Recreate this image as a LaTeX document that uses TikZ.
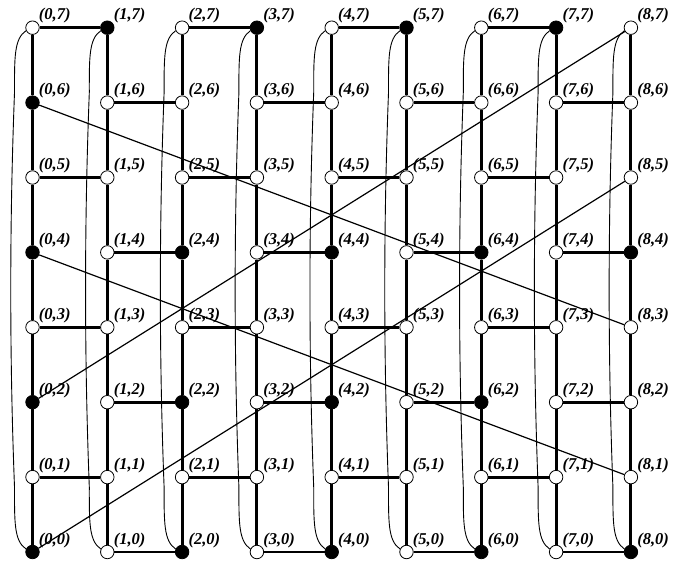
\documentclass[tikz,border=0pt]{standalone}
\usepackage{fontspec}
\setmainfont{Liberation Serif}
\usetikzlibrary{calc}
\def\blackset{,1-7,3-7,5-7,7-7,0-6,0-4,2-4,4-4,6-4,8-4,0-2,2-2,4-2,6-2,0-0,2-0,4-0,6-0,8-0,}
\makeatletter
\newcommand\setnodesty[2]{\edef\tmpa{\noexpand\in@{,#1-#2,}{\blackset}}\tmpa\ifin@\def\sty{bnode}\else\def\sty{vnode}\fi}
\makeatother
\begin{document}
\begin{tikzpicture}[x=1pt,y=1pt,
  vnode/.style={circle, draw, line width=0.8pt, minimum size=13.5pt, inner sep=0pt, fill=white},
  bnode/.style={vnode, fill=black},
  gridedge/.style={line width=2.9pt},
  wrap/.style={line width=0.9pt},
  diag/.style={line width=1.2pt},
  lab/.style={anchor=south west, inner sep=0pt, font=\fontsize{16.5}{18}\selectfont\bfseries\itshape, xshift=1.2pt, yshift=-1pt}]
\fill[white] (0,0) rectangle (675,565);
\useasboundingbox (0,0) rectangle (675,565);
% nodes
\foreach \i in {0,...,8} {
  \foreach \j in {0,...,7} {
    \setnodesty{\i}{\j}
    \node[\sty, label={[lab]45:{(\i,\j)}}] (n\i\j) at ({32.5+74.8*\i},{13+74.9*\j}) {};
  }
}
% vertical edges
\foreach \i in {0,...,8} {
  \foreach \j in {0,...,6} {
    \pgfmathtruncatemacro\k{\j+1}
    \draw[gridedge] (n\i\j) -- (n\i\k);
  }
}
% horizontal edges
\foreach \j in {0,...,7} {
  \foreach \i in {0,...,7} {
    \pgfmathtruncatemacro\p{mod(\i+\j,2)}
    \pgfmathtruncatemacro\k{\i+1}
    \ifnum\p=1 \draw[gridedge] (n\i\j) -- (n\k\j); \fi
  }
}
% wrap-around curves
\foreach \i in {0,...,8} {
  \draw[wrap] (n\i7.205) .. controls +(-12,-8) and +(0,35) .. ($(n\i7)+(-18,-65)$)
    .. controls +(-5,-130) and +(-5,130) .. ($(n\i0)+(-18,65)$)
    .. controls +(0,-35) and +(-12,8) .. (n\i0.155);
}
% diagonals
\draw[diag] (n06) -- (n83);
\draw[diag] (n04) -- (n81);
\draw[diag] (n02) -- (n87);
\draw[diag] (n00) -- (n85);
\end{tikzpicture}
\end{document}
